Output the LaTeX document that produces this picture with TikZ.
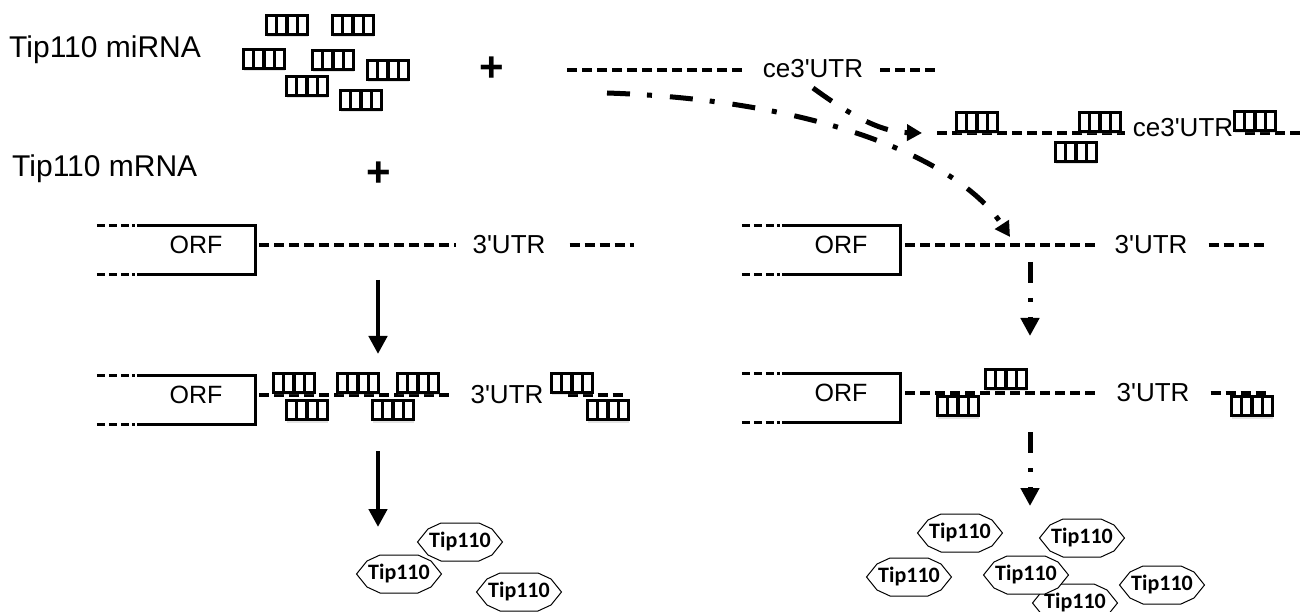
\documentclass[tikz,border=0pt]{standalone}
\usepackage{fontspec}
\setmainfont{Liberation Sans}
\newfontfamily\protfont{Carlito}
\usetikzlibrary{positioning,calc,arrows.meta,shadows}

\newcommand{\utr}{3\textquotesingle UTR}
\newcommand{\ceutr}{ce3\textquotesingle UTR}
% Tip110 protein: name, x, y
\newcommand{\protein}[3]{%
  \draw[protline] (#2,#3) +(-42.5,0) -- +(-32,-13) -- +(-19,-19) -- +(19,-19) -- +(32,-13) -- +(42.5,0)
    -- +(32,13) -- +(19,19) -- +(-19,19) -- +(-32,13) -- cycle;
  \node[prottext] (#1) at (#2,#3) {Tip110};}

\tikzset{
  mirna/.style={draw, line width=3.4pt, fill=white, minimum width=41pt, minimum height=19pt, inner sep=0pt,
    drop shadow={shadow xshift=0pt, shadow yshift=-3pt, opacity=0.22},
    path picture={\foreach \k in {1,2,3}
      \draw[line width=3.2pt] ([xshift=\k*10.25pt]path picture bounding box.north west) -- ([xshift=\k*10.25pt]path picture bounding box.south west);}},
  lbl/.style={font=\fontsize{26}{26}\selectfont, inner sep=0pt},
  big/.style={font=\fontsize{30}{30}\selectfont, inner sep=0pt},
  plus/.style={font=\bfseries\fontsize{42}{42}\selectfont, inner sep=0pt},
  rna/.style={line width=3.5pt, dash pattern=on 10pt off 5pt},
  orfedge/.style={line width=3pt, dash pattern=on 8pt off 4pt on 8pt off 4pt on 8pt off 3pt on 3pt off 2pt},
  boxline/.style={line width=3pt},
  orf/.style={font=\fontsize{25}{25}\selectfont, inner sep=0pt, minimum width=118pt, minimum height=48pt,
    text height=18pt, text depth=10.5pt},
  protline/.style={line width=1pt, fill=white},
  prottext/.style={inner sep=0pt, font=\protfont\bfseries\fontsize{22}{22}\selectfont},
  flow/.style={line width=4.5pt, -{Triangle[length=18pt,width=18pt]}},
  downflow/.style={line width=5pt, dash pattern=on 21pt off 15pt on 4pt off 15pt, -{Triangle[length=18pt,width=18pt]}},
  curvy/.style={line width=5pt, dash pattern=on 23pt off 17pt on 5pt off 18pt, -{Triangle[length=15pt,width=16pt]}},
}

\begin{document}
\begin{tikzpicture}[x=1pt,y=-1pt]
\useasboundingbox (0,0) rectangle (1302,612);

% labels
\node[big, anchor=base west] (mirlab) at (9,58) {Tip110 miRNA};
\node[big, anchor=base west] (mrnalab) at (12,177) {Tip110 mRNA};

% free miRNA
\node[mirna] (m1) at (287,25) {};
\node[mirna] (m2) at (353,25) {};
\node[mirna] (m3) at (264,59) {};
\node[mirna] (m4) at (333,60) {};
\node[mirna] (m5) at (388,70) {};
\node[mirna] (m6) at (307,86) {};
\node[mirna] (m7) at (361,100) {};

\node[plus] (plusA) at (492,69) {+};
\node[plus] (plusB) at (379,174) {+};

% ce3'UTR
\node[lbl] (ceA) at (813,69) {\ceutr};
\draw[rna] (567,70) -- ([xshift=-16pt]ceA.west |- 0,70);
\draw[rna] ([xshift=17pt]ceA.east |- 0,70) -- (935,70);

% ce3'UTR with bound miRNA
\node[lbl] (ceB) at (1183,128) {\ceutr};
\draw[rna] (937,133) -- ([xshift=-8pt]ceB.west |- 0,133);
\draw[rna] ([xshift=12pt]ceB.east |- 0,133) -- (1302,133);
\node[mirna] (b1) at (977,122) {};
\node[mirna] (b2) at (1100,122) {};
\node[mirna] (b3) at (1076,152) {};
\node[mirna] (b4) at (1255,121) {};

% mRNA, left
\node[orf] (orfA) at (196,250) {ORF};
\draw[boxline] (orfA.north west) -- (orfA.north east) -- (orfA.south east) -- (orfA.south west);
\draw[orfedge] ([xshift=-40pt]orfA.north west) -- (orfA.north west);
\draw[orfedge] ([xshift=-40pt]orfA.south west) -- (orfA.south west);
\node[lbl] (utrA) at (509,245) {\utr};
\draw[rna] ([shift={(4,-5)}]orfA.east) -- ([xshift=-16pt]utrA.west);
\draw[rna] ([xshift=24pt]utrA.east) -- ++(64,0);

% mRNA, right
\node[orf] (orfB) at (841,250) {ORF};
\draw[boxline] (orfB.north west) -- (orfB.north east) -- (orfB.south east) -- (orfB.south west);
\draw[orfedge] ([xshift=-40pt]orfB.north west) -- (orfB.north west);
\draw[orfedge] ([xshift=-40pt]orfB.south west) -- (orfB.south west);
\node[lbl] (utrB) at (1151,245) {\utr};
\draw[rna] ([shift={(5,-5)}]orfB.east) -- ([xshift=-16pt]utrB.west);
\draw[rna] ([xshift=21pt]utrB.east) -- ++(58,0);

% mRNA with miRNA, left
\node[orf] (orfC) at (196,400) {ORF};
\draw[boxline] (orfC.north west) -- (orfC.north east) -- (orfC.south east) -- (orfC.south west);
\draw[orfedge] ([xshift=-40pt]orfC.north west) -- (orfC.north west);
\draw[orfedge] ([xshift=-40pt]orfC.south west) -- (orfC.south west);
\node[lbl] (utrC) at (507,395) {\utr};
\draw[rna] ([shift={(4,-5)}]orfC.east) -- ([xshift=-18pt]utrC.west);
\draw[rna] ([xshift=24pt]utrC.east) -- ++(56,0);
\node[mirna] (c1) at (294,383) {};
\node[mirna] (c2) at (358,383) {};
\node[mirna] (c3) at (418,383) {};
\node[mirna] (c4) at (572,383) {};
\node[mirna] (c5) at (307,410) {};
\node[mirna] (c6) at (393,410) {};
\node[mirna] (c7) at (608,410) {};

% mRNA with miRNA, right
\node[orf] (orfD) at (841,398) {ORF};
\draw[boxline] (orfD.north west) -- (orfD.north east) -- (orfD.south east) -- (orfD.south west);
\draw[orfedge] ([xshift=-40pt]orfD.north west) -- (orfD.north west);
\draw[orfedge] ([xshift=-40pt]orfD.south west) -- (orfD.south west);
\node[lbl] (utrD) at (1153,393) {\utr};
\draw[rna] ([shift={(5,-5)}]orfD.east) -- ([xshift=-18pt]utrD.west);
\draw[rna] ([xshift=21pt]utrD.east) -- ++(58,0);
\node[mirna] (d1) at (958,406) {};
\node[mirna] (d2) at (1006,379) {};
\node[mirna] (d3) at (1252,406) {};

% arrows
\coordinate (la1) at (378,280);
\coordinate (la2) at (378,354);
\coordinate (la3) at (378,451);
\coordinate (la4) at (378,527);
\draw[flow] (la1) -- (la2);
\draw[flow] (la3) -- (la4);
\coordinate (ra1) at (1030,262);
\coordinate (ra2) at (1030,336);
\coordinate (ra3) at (1030,432);
\coordinate (ra4) at (1030,506);
\draw[downflow] (ra1) -- (ra2);
\draw[downflow] (ra3) -- (ra4);
\coordinate (cs) at (607,93);
\coordinate (ce) at (1010,237);
\draw[curvy] (cs) .. controls (820,100) and (960,160) .. (ce);
\coordinate (ss) at (813,88);
\coordinate (se) at (922,133);
\draw[curvy] (ss) .. controls (850,115) and (880,132) .. (se);

% Tip110 protein
\protein{pa}{460}{542}
\protein{pb}{399}{574}
\protein{pc}{519}{592}
\protein{p1}{960}{533}
\protein{p2}{1082}{538}
\protein{p3}{909}{577}
\protein{p6}{1075}{603}
\protein{p4}{1026}{575}
\protein{p5}{1162}{585}
\end{tikzpicture}
\end{document}
